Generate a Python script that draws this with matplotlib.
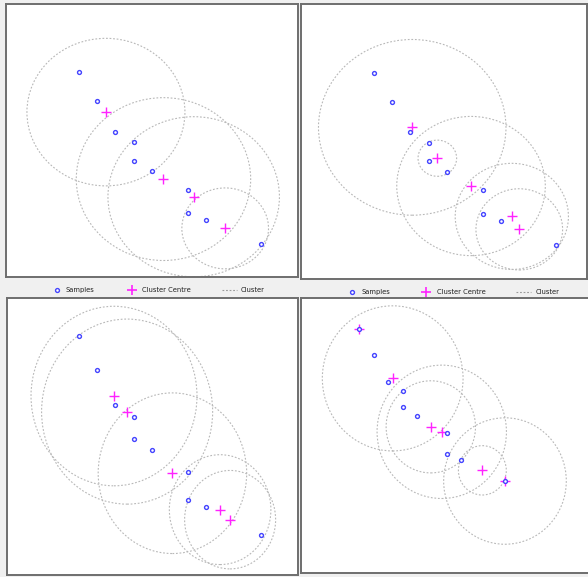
import matplotlib
matplotlib.use("Agg")
import matplotlib.pyplot as plt
from matplotlib.patches import Circle
from matplotlib.lines import Line2D

# ---- data -------------------------------------------------------------
samples_x = [0, 1, 2, 3, 3, 4, 6, 6, 7, 10]
samples_y = [10.1, 8.4, 6.6, 6.0, 4.9, 4.3, 3.2, 1.8, 1.4, 0.0]

# cluster centres and radii for the four clustering runs
run1_cx = [1.48, 4.64, 6.30, 8.03]
run1_cy = [7.76, 3.82, 2.78, 0.92]
run1_r = [4.34, 4.79, 4.71, 2.38]

run2_cx = [2.10, 3.48, 5.33, 7.57, 7.98]
run2_cy = [6.90, 5.09, 3.46, 1.68, 0.92]
run2_r = [5.15, 1.06, 4.08, 3.11, 2.38]

run3_cx = [1.92, 2.64, 5.13, 7.75, 8.30]
run3_cy = [7.06, 6.27, 3.14, 1.29, 0.78]
run3_r = [4.56, 4.70, 4.08, 2.79, 2.50]

run4_cx = [0.0, 2.31, 4.92, 5.67, 8.45, 10.0]
run4_cy = [10.1, 6.82, 3.60, 3.27, 0.71, 0.0]
run4_r = [0.0, 4.82, 3.06, 4.43, 1.64, 4.20]

legend_labels = ["Samples", "Cluster Centre", "Cluster"]

# ---- layout -----------------------------------------------------------
W, H = 588, 577
BG = "#f0f0f0"
SAMPLE_EDGE = "#4444ff"
CENTRE_COL = "#ff22ff"
CIRCLE_COL = "#b8b8b8"
FRAME_COL = "#6e6e6e"

fig = plt.figure(figsize=(W / 100, H / 100), dpi=100, facecolor=BG)

# panel boxes in pixels (left, top, right, bottom) and view limits
panels = [
    dict(box=(6, 4, 298, 277), xlim=(-4.01, 12.03), ylim=(-1.94, 14.12),
         cx=run1_cx, cy=run1_cy, r=run1_r),
    dict(box=(301, 4, 587, 279), xlim=(-4.01, 11.70), ylim=(-1.99, 14.13),
         cx=run2_cx, cy=run2_cy, r=run2_r),
    dict(box=(7, 298, 298, 575), xlim=(-3.96, 12.03), ylim=(-2.03, 12.04),
         cx=run3_cx, cy=run3_cy, r=run3_r),
    dict(box=(301, 298, 592, 573), xlim=(-3.97, 15.96), ylim=(-6.11, 12.16),
         cx=run4_cx, cy=run4_cy, r=run4_r),
]


def add_panel(p):
    L, T, R, B = p["box"]
    ax = fig.add_axes([L / W, 1 - B / H, (R - L) / W, (B - T) / H])
    ax.set_facecolor("white")
    ax.set_xlim(*p["xlim"])
    ax.set_ylim(*p["ylim"])
    ax.set_xticks([])
    ax.set_yticks([])
    for s in ax.spines.values():
        s.set_color(FRAME_COL)
        s.set_linewidth(1.4)
    for x, y, r in zip(p["cx"], p["cy"], p["r"]):
        if r > 0:
            ax.add_patch(Circle((x, y), r, fill=False, edgecolor=CIRCLE_COL,
                                linewidth=0.8, linestyle=(0, (1.6, 1.6))))
    ax.plot(p["cx"], p["cy"], linestyle="none", marker="+", markersize=7,
            markeredgewidth=1.0, color=CENTRE_COL, zorder=3)
    ax.plot(samples_x, samples_y, linestyle="none", marker="o",
            markersize=2.8, markerfacecolor="white",
            markeredgecolor=SAMPLE_EDGE, markeredgewidth=1.0, zorder=4)
    return ax


for p in panels:
    add_panel(p)


# ---- legend rows under the top panels ----------------------------------
def fx(x):
    return x / W


def fy(y):
    return 1 - y / H


def legend_row(y, xo, xt1, xp, xt2, xd0, xd1, xt3):
    fig.add_artist(Line2D([fx(xo)], [fy(y)], transform=fig.transFigure,
                          linestyle="none", marker="o", markersize=2.8,
                          markerfacecolor="white", markeredgecolor=SAMPLE_EDGE,
                          markeredgewidth=1.0))
    fig.add_artist(Line2D([fx(xp)], [fy(y)], transform=fig.transFigure,
                          linestyle="none", marker="+", markersize=7,
                          markeredgewidth=1.2, color=CENTRE_COL))
    fig.add_artist(Line2D([fx(xd0), fx(xd1)], [fy(y), fy(y)],
                          transform=fig.transFigure, color="#9a9a9a",
                          linewidth=0.8, linestyle=(0, (1.6, 1.6))))
    for xt, lab in zip((xt1, xt2, xt3), legend_labels):
        fig.text(fx(xt), fy(y), lab, ha="left", va="center", fontsize=5.4,
                 color="#202020", family="DejaVu Sans", stretch="condensed")


legend_row(290, 57, 66, 132, 142, 222, 237, 241)
legend_row(292, 352, 361, 426, 437, 516, 531, 536)

fig.savefig("out.png", dpi=100, facecolor=BG)
